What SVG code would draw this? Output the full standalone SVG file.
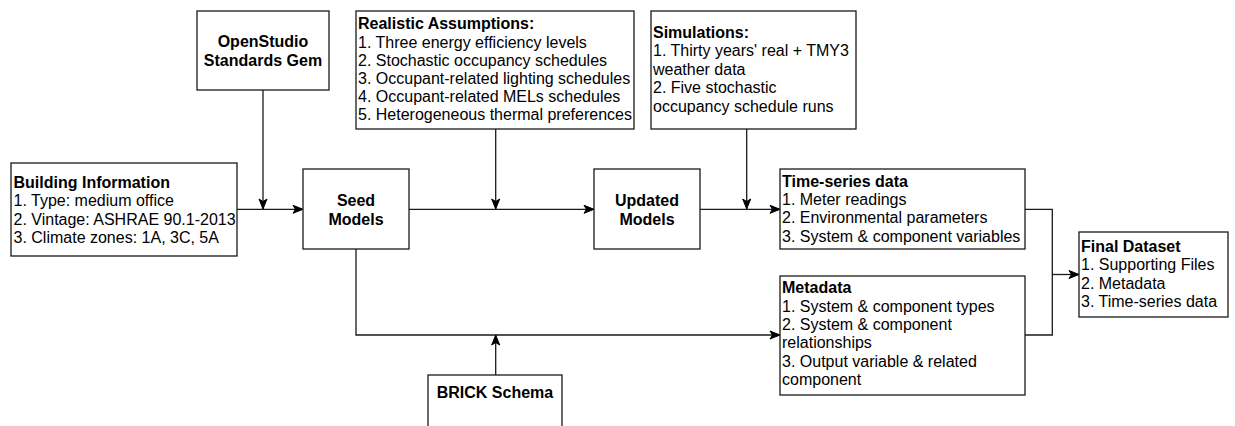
<svg xmlns="http://www.w3.org/2000/svg" width="1235" height="426" viewBox="0 0 1235 426">
<style>
.box{fill:#fff;stroke:#1a1a1a;stroke-width:1.3}
.ln{fill:none;stroke:#1a1a1a;stroke-width:1.3}
text{font-family:"Liberation Sans",Arial,sans-serif;font-size:16px;fill:#000}
.b{font-weight:bold}
.c{text-anchor:middle}
</style>
<defs>
<marker id="arr" markerUnits="userSpaceOnUse" markerWidth="12" markerHeight="10" refX="11" refY="5" orient="auto">
<path d="M1,1 L11,5 L1,9 L3.5,5 Z" fill="#000" stroke="#000" stroke-width="1"/>
</marker>
</defs>
<rect width="1235" height="426" fill="#fff"/>
<g id="connectors">
<path class="ln" d="M237,209.3 H303" marker-end="url(#arr)"/>
<path class="ln" d="M263,90 V209" marker-end="url(#arr)"/>
<path class="ln" d="M409,209.3 H594" marker-end="url(#arr)"/>
<path class="ln" d="M495.7,129 V209" marker-end="url(#arr)"/>
<path class="ln" d="M700,209.3 H780" marker-end="url(#arr)"/>
<path class="ln" d="M746.7,129 V209" marker-end="url(#arr)"/>
<path class="ln" d="M356,249 V335 H780" marker-end="url(#arr)"/>
<path class="ln" d="M495.7,375 V335" marker-end="url(#arr)"/>
<path class="ln" d="M1025,209.3 H1052.3 V335 H1025"/>
<path class="ln" d="M1052.3,274.5 H1079" marker-end="url(#arr)"/>
</g>
<g id="opensudio">
<rect class="box" x="197" y="11" width="132" height="79"/>
<text class="b c" x="263" y="47">OpenStudio</text>
<text class="b c" x="263" y="65.5">Standards Gem</text>
</g>
<g id="building">
<rect class="box" x="11" y="163" width="226" height="93"/>
<text class="b" x="13.5" y="188">Building Information</text>
<text x="13.5" y="206.3">1. Type: medium office</text>
<text x="13.5" y="224.6">2. Vintage: ASHRAE 90.1-2013</text>
<text x="13.5" y="242.9">3. Climate zones: 1A, 3C, 5A</text>
</g>
<g id="seed">
<rect class="box" x="303" y="169" width="106" height="80"/>
<text class="b c" x="356" y="206">Seed</text>
<text class="b c" x="356" y="225">Models</text>
</g>
<g id="assumptions">
<rect class="box" x="356" y="11" width="278" height="118"/>
<text class="b" x="358" y="29.3">Realistic Assumptions:</text>
<text x="358" y="47.5">1. Three energy efficiency levels</text>
<text x="358" y="65.7">2. Stochastic occupancy schedules</text>
<text x="358" y="83.9">3. Occupant-related lighting schedules</text>
<text x="358" y="102.1">4. Occupant-related MELs schedules</text>
<text x="358" y="120.3">5. Heterogeneous thermal preferences</text>
</g>
<g id="updated">
<rect class="box" x="594" y="169" width="106" height="80"/>
<text class="b c" x="647" y="206">Updated</text>
<text class="b c" x="647" y="225">Models</text>
</g>
<g id="simulations">
<rect class="box" x="651" y="11" width="205" height="118"/>
<text class="b" x="653" y="37.7">Simulations:</text>
<text x="653" y="56">1. Thirty years' real + TMY3</text>
<text x="653" y="74.5">weather data</text>
<text x="653" y="93">2. Five stochastic</text>
<text x="653" y="111.5">occupancy schedule runs</text>
</g>
<g id="timeseries">
<rect class="box" x="780" y="169" width="245" height="80"/>
<text class="b" x="782" y="186.5">Time-series data</text>
<text x="782" y="205">1. Meter readings</text>
<text x="782" y="223.3">2. Environmental parameters</text>
<text x="782" y="241.6">3. System &amp; component variables</text>
</g>
<g id="metadata">
<rect class="box" x="780" y="276" width="245" height="119"/>
<text class="b" x="782" y="293">Metadata</text>
<text x="782" y="311.5">1. System &amp; component types</text>
<text x="782" y="330">2. System &amp; component</text>
<text x="782" y="348.3">relationships</text>
<text x="782" y="366.6">3. Output variable &amp; related</text>
<text x="782" y="385">component</text>
</g>
<g id="final">
<rect class="box" x="1079" y="232" width="149" height="85"/>
<text class="b" x="1081" y="252">Final Dataset</text>
<text x="1081" y="270.3">1. Supporting Files</text>
<text x="1081" y="288.6">2. Metadata</text>
<text x="1081" y="306.9">3. Time-series data</text>
</g>
<g id="brick">
<rect class="box" x="428" y="375" width="134" height="80"/>
<text class="b c" x="495" y="398">BRICK Schema</text>
</g>
</svg>
